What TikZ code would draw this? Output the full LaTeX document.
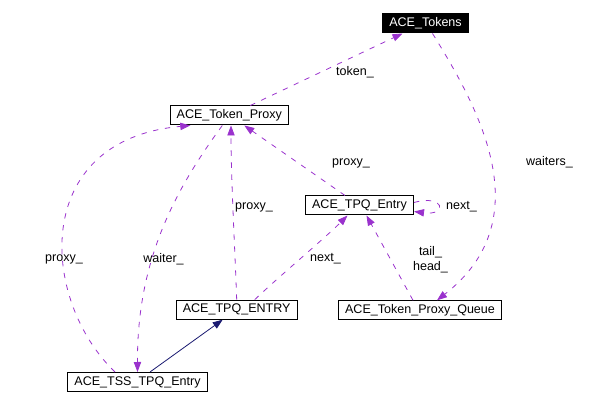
\documentclass[tikz,border=0pt]{standalone}
\usepackage{fontspec}
\setmainfont{Liberation Sans}
\usetikzlibrary{arrows.meta,calc}
\definecolor{usepurple}{RGB}{154,50,205}
\definecolor{inhnavy}{RGB}{25,25,112}
\begin{document}
\begin{tikzpicture}[x=0.75pt,y=-0.75pt,
  cls/.style={draw,line width=0.75pt,inner xsep=5pt,inner ysep=0pt,minimum height=14.25pt,font=\fontsize{9.4}{11.25}\selectfont},
  usearrow/.style={usepurple,line width=0.6pt,dash pattern=on 4pt off 5pt,-{Triangle[length=7.5pt,width=5.5pt]}},
  inharrow/.style={inhnavy,line width=0.6pt,-{Triangle[length=7.5pt,width=5.5pt]}},
  lbl/.style={font=\fontsize{9.4}{11.25}\selectfont,inner sep=1pt}]

\useasboundingbox (0,0) rectangle (594,406);

% classes
\node[cls,fill=black,text=white] (tokens) at (425.5,23.5) {ACE\_Tokens};
\node[cls] (proxy) at (229.3,115.5) {ACE\_Token\_Proxy};
\node[cls] (entry) at (359.5,205.5) {ACE\_TPQ\_Entry};
\node[cls] (entryuc) at (236.7,309.7) {ACE\_TPQ\_ENTRY};
\node[cls] (queue) at (420,310.3) {ACE\_Token\_Proxy\_Queue};
\node[cls] (tss) at (137.5,382) {ACE\_TSS\_TPQ\_Entry};

% labels
\node[lbl] (ltoken) at (355,72) {token\_};
\node[lbl] (lwaiters) at (549.5,162) {waiters\_};
\node[lbl] (lproxya) at (351,163) {proxy\_};
\node[lbl] (lnexta) at (461.5,207) {next\_};
\node[lbl] (lnextb) at (325.5,259) {next\_};
\node[lbl,align=center] (lhead) at (430.5,260) {tail\_\\head\_};
\node[lbl] (lproxyb) at (254,207) {proxy\_};
\node[lbl] (lwaiter) at (163.5,259) {waiter\_};
\node[lbl] (lproxyc) at (64,259) {proxy\_};

% usage edges
\draw[usearrow] ($(proxy.north)+(21,0)$) -- ($(tokens.south)+(-23,0)$);
\draw[usearrow] ($(tokens.south)+(7,0)$) .. controls (480,110) and (540,220) .. ($(queue.north)+(17,0)$);
\draw[usearrow] ($(entry.north)+(-14.5,0)$) -- ($(proxy.south)+(15,0)$);
\draw[usearrow] ($(entry.east)+(0,-3)$) .. controls (445,194) and (448,216) .. ($(entry.east)+(0,6)$);
\draw[usearrow] ($(entryuc.north)+(18,0)$) .. controls (275,280) and (325,238) .. ($(entry.south)+(-12,0)$);
\draw[usearrow] ($(queue.north)+(-7,0)$) -- ($(entry.south)+(7,0)$);
\draw[usearrow] (entryuc.north) .. controls (235,250) and (231,180) .. ($(proxy.south)+(1.7,0)$);
\draw[usearrow] ($(proxy.south)+(-7,0)$) .. controls (175,190) and (137,260) .. (tss.north);
\draw[usearrow] ($(tss.north)+(-22.5,0)$) .. controls (40,300) and (30,140) .. ($(proxy.south)+(-39,0)$);

% inheritance
\draw[inharrow] ($(tss.north)+(12.5,0)$) -- ($(entryuc.south)+(-14,0)$);

\end{tikzpicture}
\end{document}
